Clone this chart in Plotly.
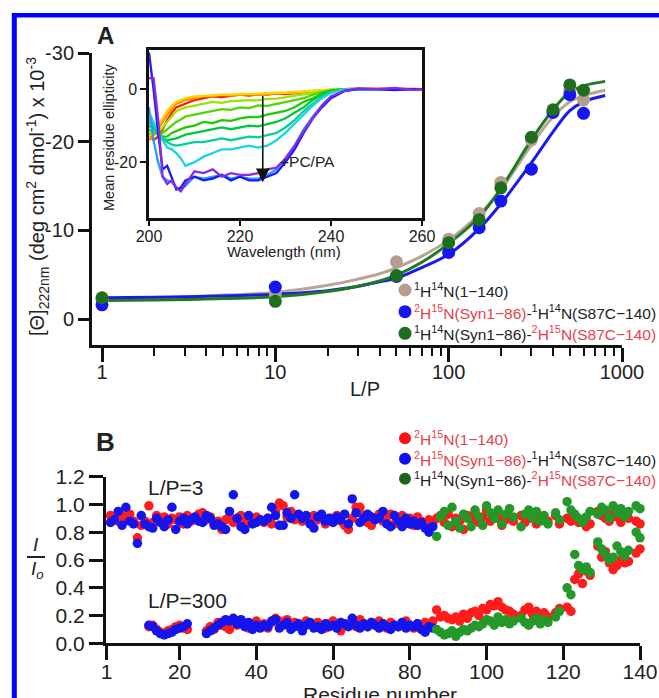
import plotly.graph_objects as go

W, H = 659, 698
def px(x): return x / W
def py(y): return 1 - y / H

FONT = "Liberation Sans, Arial, Helvetica, sans-serif"
TXT = "#222222"
RED_TXT = "#e8404c"

# ---------------- Panel A main: ellipticity vs L/P ----------------
LP_pts = [1, 10, 50, 100, 150, 200, 300, 400, 500, 600]
theta_brown = [-2.2, -2.8, -6.45, -9.0, -11.9, -15.4, -20.2, -23.4, -25.8, -24.7]
theta_blue = [-1.6, -3.6, -4.8, -7.5, -10.3, -13.3, -16.9, -23.3, -25.3, -23.2]
theta_green = [-2.4, -2.0, -4.9, -8.6, -11.2, -14.8, -20.5, -23.6, -26.4, -25.8]

LP_fit = [1, 2, 5, 10, 20, 30, 40, 50, 70, 100, 150, 200, 300, 400, 500, 600, 800]
fit_brown = [-2.2, -2.35, -2.7, -3.0, -3.8, -4.5, -5.1, -5.8, -7.1, -8.9, -11.8, -14.6, -19.6, -22.8, -24.5, -25.2, -25.8]
fit_blue = [-2.4, -2.45, -2.6, -2.8, -3.2, -3.7, -4.2, -4.6, -5.8, -7.3, -10.2, -13.0, -17.6, -21.1, -23.5, -24.5, -25.2]
fit_green = [-2.1, -2.15, -2.3, -2.5, -3.1, -3.7, -4.3, -4.95, -6.4, -8.5, -11.5, -14.7, -20.2, -23.6, -25.6, -26.3, -26.8]

LP_major = [1, 10, 100, 1000]
LP_minor = [2, 3, 4, 5, 6, 7, 8, 9, 20, 30, 40, 50, 60, 70, 80, 90,
            200, 300, 400, 500, 600, 700, 800, 900]
theta_ticks = [-30, -20, -10, 0]
theta_ticktext = ["-30", "-20", "-10", "0"]

# ---------------- Panel A inset: CD spectra ----------------
WL = [200, 201, 202, 203, 204, 205, 206, 207, 208, 210, 212, 214, 216, 218, 220,
      222, 224, 226, 228, 230, 232, 234, 236, 238, 240, 243, 246, 250, 254, 258, 260]
cd_red = [-12.5, -14, -13, -11, -8.5, -6.5, -5, -4.5, -4, -3, -2.5, -2, -2.2, -1.8, -1.5,
          -1.8, -1.4, -1.5, -1.2, -1.4, -1.0, -0.8, -0.6, -0.4, -0.2, 0, 0.1, 0, 0.1, 0, 0]
cd_orange = [-14, -12.5, -11, -9, -7, -5.5, -4, -3.5, -3, -2.5, -2, -2, -1.6, -1.8, -1.5,
             -1.4, -1.6, -1.3, -1.2, -1.1, -1.0, -0.8, -0.5, -0.3, -0.2, 0, 0, 0.1, 0, 0.1, 0]
cd_yellow = [-13, -11.5, -10, -8, -6, -4.5, -3.5, -3, -2.5, -2, -1.8, -1.6, -1.5, -1.5, -1.3,
             -1.4, -1.2, -1.2, -1.0, -1.0, -0.8, -0.6, -0.4, -0.3, -0.1, 0, 0, 0, 0.1, 0, 0]
cd_lgreen = [-12, -12.5, -12, -10.5, -9, -7.5, -6, -5.5, -5, -4.5, -4, -3.5, -3.8, -3.3, -3.2,
             -3.0, -3.1, -2.7, -2.6, -2.2, -2.0, -1.5, -1.0, -0.6, -0.3, 0, 0, 0.1, 0, 0, 0]
cd_green1 = [-11, -12, -12.5, -12, -11, -10, -9, -8.3, -7.5, -7, -6.5, -6, -5.5, -5.7, -5,
             -5.2, -4.5, -4.6, -4, -3.5, -3, -2.5, -1.5, -0.8, -0.3, 0, 0.1, 0, 0, 0.1, 0]
cd_green2 = [-10, -11, -12, -13, -13, -12, -11.5, -11, -10.5, -10, -9, -9.3, -8.5, -8.7, -8,
             -7.6, -7.7, -7, -6.5, -6, -5, -3.5, -2.5, -1.2, -0.5, 0, 0, 0.1, 0, 0, 0]
cd_green3 = [-9, -10.5, -12, -13.5, -14, -13.8, -13.5, -13, -12.5, -12, -11.5, -11, -10.5, -11, -10.5,
             -10, -10.2, -9.5, -9, -8, -6.5, -5, -3, -1.5, -0.5, 0, 0, 0, 0.1, 0, 0]
cd_teal = [-8, -10, -12, -13.5, -14.5, -15.2, -15.5, -15.3, -15, -14.5, -14.5, -14, -13.5, -14, -13.5,
           -13, -13.2, -12.5, -12, -10.5, -8.5, -6, -4, -2, -1, 0, 0, 0.1, 0, 0, 0]
cd_cyan = [-6.5, -9, -12, -14, -16, -16.5, -17.5, -19, -21, -20, -18.5, -17.5, -16.5, -16.5, -16,
           -15.5, -16, -15.5, -14, -12, -9.5, -7, -4.5, -2.5, -1, 0, 0, 0, 0.1, 0, 0]
cd_lblue = [-5, -14, -20, -24, -25, -25.5, -27, -27.5, -26.5, -24, -24.5, -24, -23.5, -24.5, -24,
            -24.5, -24.5, -23.5, -22, -19, -15.5, -11, -7.5, -4.5, -2, -0.5, 0, 0, 0, 0, 0]
cd_blue = [10, 0, -12, -22, -21, -24, -27.5, -27, -25, -24, -25, -24.5, -23.5, -25, -24,
           -25, -25, -24, -23, -20, -16.5, -12, -8, -5, -2.5, -0.5, 0, 0, -0.3, 0, 0]
cd_purple = [3, 3, -8, -24, -26, -25, -27, -28, -26, -22.5, -23, -22, -24, -23, -23.5,
             -23.5, -23, -22, -21.5, -19, -15.5, -11.5, -8, -4.5, -2, -0.5, 0.2, 0, 0.3, -0.2, 0]
cd_series = [cd_red, cd_orange, cd_yellow, cd_lgreen, cd_green1, cd_green2, cd_green3,
             cd_teal, cd_cyan, cd_lblue, cd_blue, cd_purple]
cd_colors = ["#ff1a00", "#ff8c00", "#ffd400", "#99e600", "#4fd600", "#22c800", "#00c83c",
             "#00d29a", "#19d4e6", "#2a9cff", "#1a1aff", "#8a2be2"]

# ---------------- Panel B: I/I0 vs residue ----------------
PRO = (108, 117, 120, 128, 138)
R3_N = list(range(2, 87))
R_C = [r for r in range(87, 141) if r not in PRO]
R300_N = [r for r in range(12, 87) if r not in (23, 24, 25, 26)]

blue3 = [0.87, 0.89, 0.95, 0.85, 0.98, 0.88, 0.86, 0.72, 0.92, 0.86,
         0.84, 0.83, 0.90, 0.87, 0.84, 0.89, 0.98, 0.82, 0.88, 0.90,
         0.86, 0.89, 0.91, 0.88, 0.87, 0.92, 0.90, 0.85, 0.86, 0.84,
         0.82, 0.95, 1.07, 0.90, 0.84, 0.82, 0.92, 0.86, 0.87, 0.89,
         0.88, 0.90, 0.98, 0.92, 0.85, 0.85, 0.94, 0.90, 1.07, 0.93,
         0.90, 0.92, 0.86, 0.83, 0.91, 0.93, 0.88, 0.90, 0.87, 0.91,
         0.89, 0.93, 0.86, 1.04, 0.94, 0.87, 0.90, 0.93, 0.91, 0.89,
         0.90, 0.95, 0.86, 0.84, 0.92, 0.88, 0.84, 0.90, 0.86, 0.88,
         0.85, 0.87, 0.83, 0.80, 0.84]
red3_N = [0.92, 0.90, 0.88, 0.92, 0.90, 0.93, 0.88, 0.76, 0.85, 0.88,
          0.99, 0.87, 0.92, 0.88, 0.91, 0.86, 0.90, 0.89, 0.91, 0.86,
          0.92, 0.88, 0.90, 0.93, 0.94, 0.89, 0.91, 0.86, 0.88, 0.82,
          0.89, 0.91, 0.87, 0.89, 0.92, 0.86, 0.90, 0.88, 0.91, 0.89,
          0.87, 0.90, 0.86, 0.95, 1.01, 0.99, 0.91, 0.95, 0.89, 0.91,
          0.88, 0.90, 0.87, 0.92, 0.89, 0.91, 0.86, 0.88, 0.90, 0.92,
          0.88, 0.85, 0.82, 0.90, 0.98, 0.98, 0.92, 0.87, 0.85, 0.90,
          0.93, 0.88, 0.91, 0.93, 0.86, 0.89, 0.92, 0.87, 0.90, 0.85,
          0.91, 0.88, 0.86, 0.89, 0.87]
red3_C = [0.90, 0.92, 0.87, 0.93, 0.84, 0.90, 0.88, 0.82, 0.92, 0.89, 0.94,
          0.87, 0.91, 0.96, 0.88, 0.93, 0.90, 0.85, 0.89, 0.91, 0.88,
          0.92, 0.87, 0.90, 0.93, 0.86, 0.91, 0.89, 0.88,
          0.92, 0.86,
          0.90, 0.88, 0.91, 0.87, 0.89, 0.84, 0.86,
          0.95, 0.92, 0.90, 0.88, 0.93, 0.91, 0.87, 0.94, 0.90,
          0.88, 0.86]
green3 = [0.77, 0.91, 0.95, 0.85, 0.98, 0.88, 0.83, 0.93, 0.90, 0.84, 0.96,
          0.91, 0.85, 0.99, 0.94, 0.90, 0.96, 0.86, 0.93, 0.97, 0.91,
          0.84, 0.93, 0.96, 0.90, 0.95, 0.88, 0.92, 0.86,
          0.94, 0.89,
          1.02, 0.96, 0.93, 0.90, 0.87, 0.91, 0.95,
          0.93, 0.98, 0.96, 0.90, 0.99, 0.94, 0.97, 0.91, 0.95,
          0.99, 0.97]
blue300 = [0.13, 0.12, 0.09, 0.07, 0.06, 0.07, 0.08, 0.10, 0.11, 0.12, 0.14,
           0.07, 0.09, 0.11, 0.13, 0.15, 0.17, 0.16, 0.18, 0.14, 0.17, 0.12, 0.15, 0.10, 0.13, 0.11,
           0.13, 0.12, 0.16, 0.17, 0.11, 0.13, 0.15, 0.10, 0.12, 0.14,
           0.09, 0.13, 0.15, 0.11, 0.12, 0.10, 0.14, 0.12, 0.13, 0.11,
           0.15, 0.14, 0.12, 0.18, 0.13, 0.11, 0.14, 0.12, 0.15, 0.13,
           0.11, 0.14, 0.12, 0.10, 0.13, 0.12, 0.15, 0.11, 0.13, 0.12,
           0.14, 0.10, 0.08, 0.12, 0.11]
red300_N = [0.12, 0.13, 0.10, 0.08, 0.07, 0.09, 0.10, 0.12, 0.13, 0.11, 0.10,
            0.09, 0.12, 0.10, 0.15, 0.13, 0.12, 0.10, 0.16, 0.13, 0.15, 0.13, 0.11, 0.14, 0.16, 0.13,
            0.14, 0.11, 0.15, 0.18, 0.16, 0.14, 0.17, 0.12, 0.15, 0.13,
            0.11, 0.16, 0.14, 0.12, 0.15, 0.13, 0.11, 0.14, 0.16, 0.12,
            0.09, 0.14, 0.13, 0.15, 0.12, 0.17, 0.14, 0.12, 0.15, 0.13,
            0.16, 0.14, 0.11, 0.15, 0.13, 0.12, 0.14, 0.16, 0.13, 0.11,
            0.14, 0.12, 0.15, 0.13, 0.16]
red300_C = [0.24, 0.19, 0.20, 0.18, 0.17, 0.19, 0.16, 0.21, 0.18, 0.22, 0.23,
            0.20, 0.25, 0.24, 0.28, 0.27, 0.30, 0.26, 0.24, 0.23, 0.21,
            0.20, 0.24, 0.26, 0.21, 0.23, 0.20, 0.22, 0.19,
            0.22, 0.25,
            0.26, 0.23, 0.46, 0.50, 0.43, 0.52, 0.49,
            0.70, 0.62, 0.66, 0.58, 0.53, 0.56, 0.60, 0.58, 0.59,
            0.65, 0.68]
green300 = [0.10, 0.08, 0.06, 0.07, 0.09, 0.05, 0.08, 0.10, 0.09, 0.11, 0.13,
            0.12, 0.14, 0.17, 0.16, 0.13, 0.19, 0.15, 0.17, 0.14, 0.16,
            0.18, 0.15, 0.13, 0.16, 0.18, 0.14, 0.17, 0.15,
            0.19, 0.23,
            0.40, 0.35, 0.64, 0.56, 0.53, 0.55, 0.51,
            0.73, 0.68, 0.64, 0.60, 0.62, 0.70, 0.66, 0.63, 0.67,
            0.80, 0.76]

res_ticks = [1, 20, 40, 60, 80, 100, 120, 140]
ratio_ticks = [0, 0.2, 0.4, 0.6, 0.8, 1.0, 1.2]
ratio_ticktext = ["0.0", "0.2", "0.4", "0.6", "0.8", "1.0", "1.2"]

# colours
C_BROWN, C_BLUE, C_GREEN_A = "#b39e90", "#1616ee", "#1d6e1d"
C_RED_B, C_BLUE_B, C_GREEN_B = "#ff1c1c", "#1414ee", "#24992a"

fig = go.Figure()

# Panel A fits and points
for fit, col in [(fit_brown, "#b8a597"), (fit_blue, "#1a1aef"), (fit_green, "#1f7a22")]:
    fig.add_trace(go.Scatter(x=LP_fit, y=fit, mode="lines", line=dict(color=col, width=3, shape="spline"),
                             xaxis="x", yaxis="y", hoverinfo="skip"))
for vals, col in [(theta_brown, C_BROWN), (theta_blue, C_BLUE), (theta_green, C_GREEN_A)]:
    fig.add_trace(go.Scatter(x=LP_pts, y=vals, mode="markers", marker=dict(color=col, size=13, line=dict(width=0)),
                             xaxis="x", yaxis="y", cliponaxis=False))

# inset
for vals, col in zip(cd_series, cd_colors):
    fig.add_trace(go.Scatter(x=WL, y=vals, mode="lines", line=dict(color=col, width=2.3),
                             xaxis="x2", yaxis="y2"))

# Panel B
def bdots(xs, ys, col):
    fig.add_trace(go.Scatter(x=xs, y=ys, mode="markers", marker=dict(color=col, size=9.5, line=dict(width=0)),
                             xaxis="x3", yaxis="y3", cliponaxis=False))
bdots(R3_N, red3_N, C_RED_B)
bdots(R_C, red3_C, C_RED_B)
bdots(R300_N, red300_N, C_RED_B)
bdots(R_C, red300_C, C_RED_B)
bdots(R3_N, blue3, C_BLUE_B)
bdots(R300_N, blue300, C_BLUE_B)
bdots(R_C, green3, C_GREEN_B)
bdots(R_C, green300, C_GREEN_B)

axis_common = dict(showgrid=False, zeroline=False, showline=True, linecolor="#111111",
                   ticks="outside", tickcolor="#111111", automargin=False,
                   tickfont=dict(family=FONT, size=20, color=TXT))

layout = dict(
    template="none",
    width=W, height=H, autosize=False,
    margin=dict(l=0, r=0, t=0, b=0, pad=0, autoexpand=False),
    paper_bgcolor="white", plot_bgcolor="rgba(0,0,0,0)",
    showlegend=False,
    font=dict(family=FONT, color=TXT),
    xaxis=dict(axis_common, domain=[px(92), px(622)], type="log", range=[-0.0577, 3.0],
               tickmode="array", tickvals=LP_major, ticktext=["1", "10", "100", "1000"],
               ticklen=14, tickwidth=2.5, linewidth=3, anchor="y", ticklabelstandoff=-7,
               minor=dict(tickmode="array", tickvals=LP_minor, ticks="outside", ticklen=8,
                          tickwidth=2, tickcolor="#111111", showgrid=False)),
    yaxis=dict(axis_common, domain=[py(345), py(53)], range=[2.93, -30],
               tickmode="array", tickvals=theta_ticks, ticktext=theta_ticktext,
               ticklen=11, tickwidth=2.5, linewidth=3, anchor="x"),
    xaxis2=dict(axis_common, domain=[px(149), px(422)], range=[200, 260], mirror=True,
                tickmode="array", tickvals=[200, 220, 240, 260], ticklen=5, tickwidth=2,
                linewidth=2.5, anchor="y2", ticklabelstandoff=-3,
                tickfont=dict(family=FONT, size=16, color=TXT)),
    yaxis2=dict(axis_common, domain=[py(218), py(50)], range=[-35.3, 10.7], mirror=True,
                tickmode="array", tickvals=[0, -20], ticktext=["0", "-20"], ticklen=6, tickwidth=2,
                linewidth=2.5, anchor="x2", tickfont=dict(family=FONT, size=16, color=TXT)),
    xaxis3=dict(axis_common, domain=[px(106), px(640)], range=[0.82, 140],
                tickmode="array", tickvals=res_ticks, ticklen=14, tickwidth=2.5, linewidth=3,
                anchor="y3", ticklabelstandoff=-7, tickfont=dict(family=FONT, size=21, color=TXT)),
    yaxis3=dict(axis_common, domain=[py(643.3), py(476.7)], range=[0, 1.2],
                tickmode="array", tickvals=ratio_ticks, ticktext=ratio_ticktext, ticklen=14,
                tickwidth=2.5, linewidth=3, anchor="x3", tickfont=dict(family=FONT, size=21, color=TXT)),
)
fig.update_layout(**layout)

def red(s):
    return '<span style="color:%s">%s</span>' % (RED_TXT, s)

lab_b_red = red("<sup>2</sup>H<sup>15</sup>N(1−140)")
lab_a_brown = "<sup>1</sup>H<sup>14</sup>N(1−140)"
lab_blue = red("<sup>2</sup>H<sup>15</sup>N(Syn1−86)") + "-<sup>1</sup>H<sup>14</sup>N(S87C−140)"
lab_green = "<sup>1</sup>H<sup>14</sup>N(Syn1−86)-" + red("<sup>2</sup>H<sup>15</sup>N(S87C−140)")

ann = []
def text(x, y, s, size, xanchor="center", angle=0, bold=False, color=TXT):
    ann.append(dict(x=px(x), y=py(y), xref="paper", yref="paper", text=("<b>%s</b>" % s) if bold else s,
                    showarrow=False, xanchor=xanchor, yanchor="middle", textangle=angle,
                    font=dict(family=FONT, size=size, color=color)))

text(106, 35, "A", 24, bold=True)
text(106, 442, "B", 26, bold=True)
text(37, 197, "[Θ]<sub>222nm</sub> (deg cm<sup>2</sup> dmol<sup>-1</sup>) x 10<sup>-3</sup>", 20, angle=-90)
text(365, 389, "L/P", 20)
text(109, 138, "Mean residue ellipticity", 14.5, angle=-90)
text(284, 252, "Wavelength (nm)", 15)
text(380, 694, "Residue number", 21)
text(146, 487, "L/P=3", 21, xanchor="left")
text(146, 600, "L/P=300", 21, xanchor="left")
text(36, 544, "<i>I</i>", 19)
text(37, 570, "<i>I<sub>o</sub></i>", 19)

shapes = []
def dot(x, y, col, d):
    shapes.append(dict(type="circle", xref="paper", yref="paper", x0=px(x - d / 2), x1=px(x + d / 2),
                       y0=py(y + d / 2), y1=py(y - d / 2), fillcolor=col, line=dict(width=0)))

for y, col, s in [(290, C_BROWN, lab_a_brown), (311.7, C_BLUE, lab_blue), (333.3, C_GREEN_A, lab_green)]:
    dot(405, y, col, 13)
    text(412, y, s, 15.5, xanchor="left")
for y, col, s in [(438.3, "#ff1010", lab_b_red), (458.7, "#1010ee", lab_blue), (478.7, "#1a661a", lab_green)]:
    dot(405, y, col, 12)
    text(412, y, s, 15.5, xanchor="left")

# arrow in inset
ann.append(dict(x=225, y=-25.5, ax=225, ay=-1.5, xref="x2", yref="y2", axref="x2", ayref="y2",
                text="", showarrow=True, arrowhead=2, arrowsize=1.7, arrowwidth=1.6, arrowcolor="#111111"))
ann.append(dict(x=228.3, y=-19.9, xref="x2", yref="y2", text="+PC/PA", showarrow=False, xanchor="left",
                yanchor="middle", font=dict(family=FONT, size=15.5, color=TXT)))

# fraction bar of I/Io
shapes.append(dict(type="line", xref="paper", yref="paper", x0=px(27), x1=px(45), y0=py(557), y1=py(557),
                   line=dict(color="#222222", width=2)))
# blue frame
shapes.append(dict(type="line", xref="paper", yref="paper", x0=px(14.3), x1=px(14.3), y0=py(13), y1=py(720),
                   line=dict(color="#0000ff", width=5)))
shapes.append(dict(type="line", xref="paper", yref="paper", x0=px(12), x1=px(700), y0=py(15.3), y1=py(15.3),
                   line=dict(color="#0000ff", width=4.5)))

fig.update_layout(annotations=ann, shapes=shapes)
fig.write_html("out.html", config={"displayModeBar": False},
               post_script="document.documentElement.style.margin='0';document.body.style.margin='0';"
                           "document.body.style.padding='0';document.body.style.overflow='hidden';")
